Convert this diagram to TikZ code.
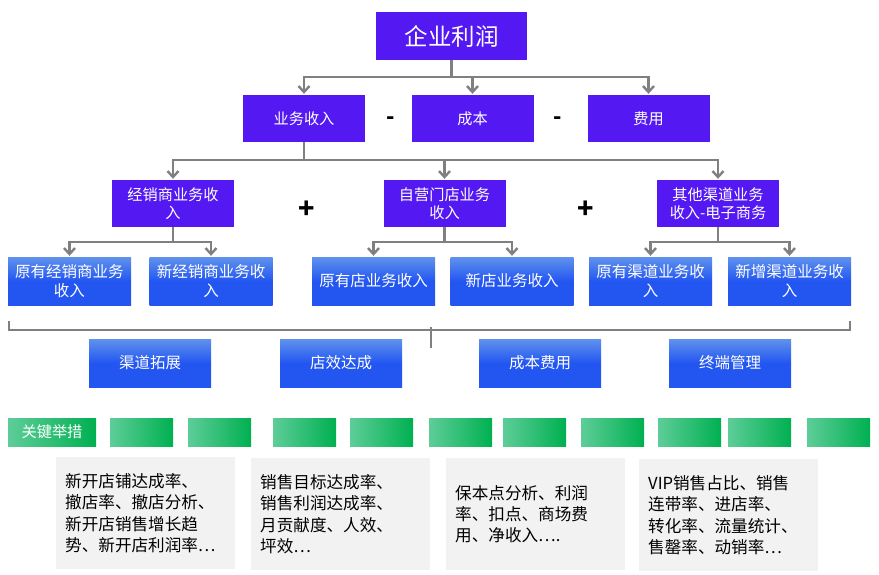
\documentclass[tikz,border=0pt]{standalone}
\usepackage{fontspec}
\setmainfont{Noto Sans CJK SC}
\usetikzlibrary{arrows.meta,positioning}
\definecolor{topPurple}{HTML}{5418F2}
\definecolor{blueTop}{HTML}{6092EC}
\definecolor{blueBot}{HTML}{2356F1}
\definecolor{greenL}{HTML}{5DCD98}
\definecolor{greenR}{HTML}{00B050}
\definecolor{lineGray}{HTML}{808080}
\definecolor{noteGray}{HTML}{F2F2F2}

\tikzset{
  purplebox/.style={fill=topPurple, text=white, inner sep=0pt, align=center,
    minimum width=122pt, minimum height=47pt, font=\fontsize{15.2}{18.5}\selectfont},
  bluebox/.style={top color=blueTop, bottom color=blueBot, middle color=blueBot,
    text=white, inner sep=0pt, align=center, minimum width=123pt,
    minimum height=48pt, font=\fontsize{15.5}{18.5}\selectfont},
  greenbar/.style={left color=greenL, right color=greenR, inner sep=0pt,
    minimum height=28pt, text=white, font=\fontsize{15.2}{18}\selectfont},
  notebox/.style={fill=noteGray, anchor=north west, inner xsep=9pt, inner ysep=0pt,
    align=left, text width=161pt, minimum height=112pt,
    font=\fontsize{16.6}{21.5}\selectfont},
  link/.style={draw=lineGray, line width=2.4pt},
  conn/.style={link, -{Straight Barb[length=6pt,width=11pt]}, shorten >=1pt},
  sign/.style={font=\bfseries\fontsize{27}{27}\selectfont}
}

\begin{document}
\begin{tikzpicture}[x=1pt,y=-1pt]
  \useasboundingbox (0,0) rectangle (879,574);

  % top and second level
  \node[purplebox, minimum width=151pt, minimum height=48pt,
        font=\fontsize{23.5}{26}\selectfont] (profit) at (451.5,36) {企业利润};
  \node[purplebox] (rev)  at (304,118.5)   {业务收入};
  \node[purplebox] (cost) at (472.5,118.5) {成本};
  \node[purplebox] (fee)  at (648.5,118.5) {费用};
  \node[sign, font=\bfseries\fontsize{22}{22}\selectfont] (m1) at (391,121) {-};
  \node[sign, font=\bfseries\fontsize{22}{22}\selectfont] (m2) at (558,121) {-};

  % third level
  \node[purplebox] (dist)  at (173,203.5)   {经销商业务收\\入};
  \node[purplebox] (own)   at (444.5,203.5) {自营门店业务\\收入};
  \node[purplebox] (other) at (718,203.5)   {其他渠道业务\\收入-电子商务};
  \node[sign] (p1) at (307,210) {+};
  \node[sign] (p2) at (586,210) {+};

  % fourth level
  \node[bluebox] (distOld) at (69.5,281)  {原有经销商业务\\收入};
  \node[bluebox] (distNew) at (211,281)   {新经销商业务收\\入};
  \node[bluebox] (ownOld)  at (373.5,281) {原有店业务收入};
  \node[bluebox] (ownNew)  at (512,281)   {新店业务收入};
  \node[bluebox] (othOld)  at (650.5,281) {原有渠道业务收\\入};
  \node[bluebox] (othNew)  at (789.5,281) {新增渠道业务收\\入};

  % junctions
  \coordinate (j1) at (451.5,77);
  \coordinate (j2) at (304,160);
  \coordinate (j3) at (173,242);
  \coordinate (j4) at (444.5,242);
  \coordinate (j5) at (718,242);

  \draw[link] (profit) -- (j1);
  \foreach \t in {rev,cost,fee}
    \draw[conn] (j1) -| (\t);
  \draw[link] (rev) -- (j2);
  \foreach \t in {dist,own,other}
    \draw[conn] (j2) -| (\t);
  \draw[link] (dist) -- (j3);
  \draw[link] (own) -- (j4);
  \draw[link] (other) -- (j5);
  \draw[conn] (j3) -| (distOld);
  \draw[conn] (j3) -| (distNew);
  \draw[conn] (j4) -| (ownOld);
  \draw[conn] (j4) -| (ownNew);
  \draw[conn] (j5) -| (othOld);
  \draw[conn] (j5) -| (othNew);

  % bracket
  \draw[link] (9,321) -- (9,330) -- (850,330) -- (850,321);
  \draw[link] (431,327) -- (431,348);

  % areas
  \node[bluebox, minimum width=122pt] (chan)  at (150,363) {渠道拓展};
  \node[bluebox, minimum width=122pt] (store) at (341,363) {店效达成};
  \node[bluebox, minimum width=122pt] (costs) at (540,363) {成本费用};
  \node[bluebox, minimum width=122pt] (term)  at (730,363) {终端管理};

  % key measures
  \node[greenbar, minimum width=88pt] (key) at (52,432) {关键举措};
  \foreach \x [count=\i] in {110,188,273,350,429,503,581,658,728,807}
    \node[greenbar, minimum width=63pt, anchor=west] (g\i) at (\x,432) {};

  % notes
  \node[notebox] (n1) at (56,457)  {新开店铺达成率、\\撤店率、撤店分析、\\新开店销售增长趋\\势、新开店利润率…};
  \node[notebox] (n2) at (251,458) {销售目标达成率、\\销售利润达成率、\\月贡献度、人效、\\坪效…};
  \node[notebox] (n3) at (446,458) {保本点分析、利润\\率、扣点、商场费\\用、净收入….};
  \node[notebox] (n4) at (639,459) {VIP销售占比、销售\\连带率、进店率、\\转化率、流量统计、\\售罄率、动销率…};
\end{tikzpicture}
\end{document}
